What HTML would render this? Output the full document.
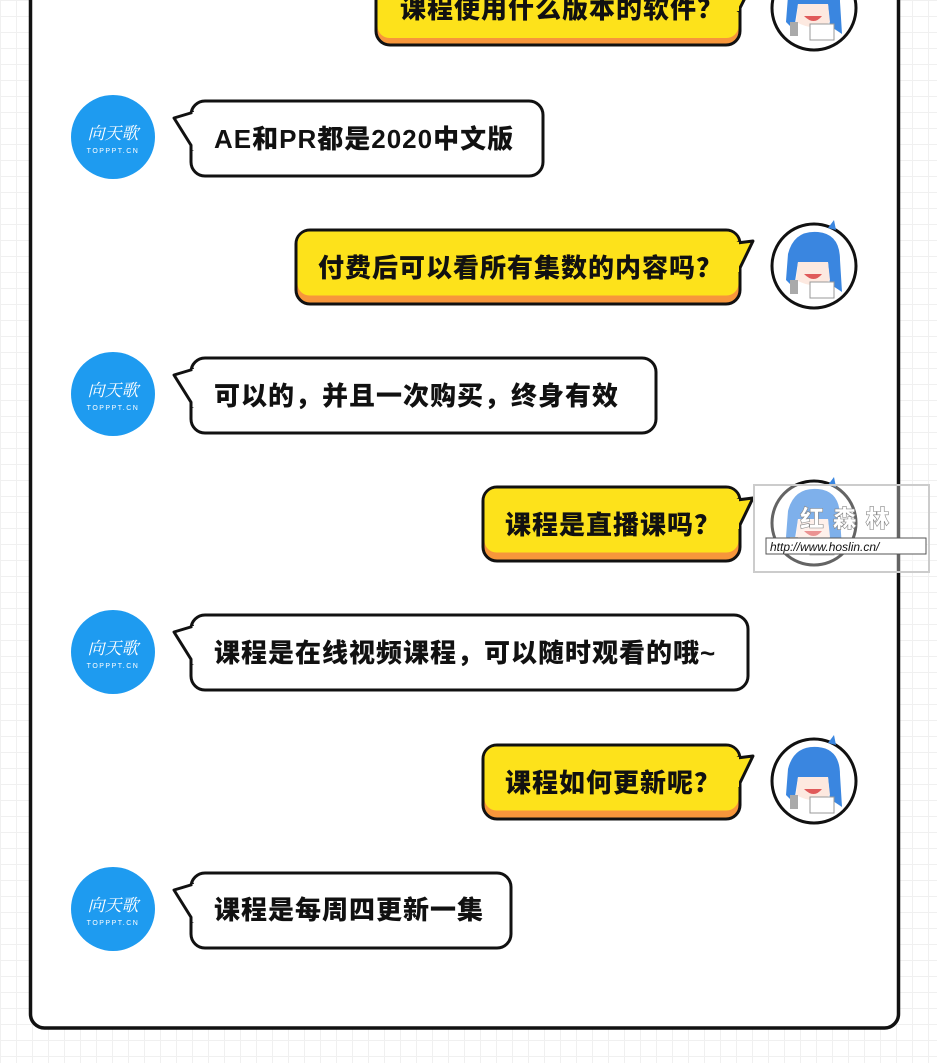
<!DOCTYPE html>
<html><head><meta charset="utf-8"><style>
body{margin:0;width:937px;height:1063px;overflow:hidden;background:#fff;
background-image:linear-gradient(#f0f0f0 1px,transparent 1px),linear-gradient(90deg,#f0f0f0 1px,transparent 1px);background-size:16px 16px;}
svg{display:block}
text{font-family:"Liberation Sans","Noto Sans CJK SC",sans-serif;font-weight:900;font-size:26px;fill:#111;letter-spacing:1px}
</style></head><body>
<svg width="937" height="1063" viewBox="0 0 937 1063">
<defs>
<g id="girl">
<circle r="42" fill="#fff" stroke="#111" stroke-width="3"/>
<path d="M-26,-12 Q-20,-36 4,-34 Q26,-32 26,-6 L28,26 L16,18 L14,-4 L-16,-4 L-20,22 L-28,14 Z" fill="#3a86e0"/>
<path d="M-16,-4 L14,-4 L16,14 Q0,24 -18,14 Z" fill="#fde9e0"/>
<path d="M-10,8 Q0,18 8,8 Z" fill="#e05a5a"/>
<rect x="-4" y="16" width="24" height="16" fill="#fff" stroke="#999" stroke-width="1"/>
<rect x="-24" y="14" width="8" height="14" fill="#aaa"/>
<path d="M14,-38 L20,-46 L22,-36 Z" fill="#3a86e0"/>
</g>
<g id="logo">
<circle r="42" fill="#1e9bf0"/>
<text x="0" y="2" text-anchor="middle" style="font-family:'Liberation Serif','Noto Serif CJK SC',serif;font-size:17px;font-weight:normal;fill:#fff;font-style:italic;letter-spacing:0">向天歌</text>
<text x="0" y="16" text-anchor="middle" style="font-size:7px;font-weight:normal;fill:#fff;letter-spacing:1.5px">TOPPPT.CN</text>
</g>
</defs>
<rect x="30.5" y="-40" width="868" height="1068" rx="14" fill="#fff" stroke="#111" stroke-width="3.5"/>

<rect x="376" y="-30" width="364" height="75" rx="14" fill="#f7963b" stroke="#111" stroke-width="3"/>
<rect x="377.5" y="-28" width="361" height="66" rx="12" fill="#fde21b"/>
<path d="M737,-16 L753,-18 L738,12" fill="#fde21b" stroke="#111" stroke-width="3" stroke-linejoin="round"/>
<rect x="733" y="-17" width="6" height="28" fill="#fde21b"/>
<text x="400" y="18">课程使用什么版本的软件？</text>
<use href="#girl" x="814" y="8"/>

<rect x="296" y="230" width="444" height="74" rx="14" fill="#f7963b" stroke="#111" stroke-width="3"/>
<rect x="297.5" y="231.5" width="441" height="64" rx="12" fill="#fde21b"/>
<path d="M737,243 L753,241 L738,272" fill="#fde21b" stroke="#111" stroke-width="3" stroke-linejoin="round"/>
<rect x="733" y="242" width="6" height="30" fill="#fde21b"/>
<text x="318" y="277">付费后可以看所有集数的内容吗？</text>
<use href="#girl" x="814" y="266"/>

<rect x="483" y="487" width="257" height="74" rx="14" fill="#f7963b" stroke="#111" stroke-width="3"/>
<rect x="484.5" y="488.5" width="254" height="64" rx="12" fill="#fde21b"/>
<path d="M737,500 L753,498 L738,529" fill="#fde21b" stroke="#111" stroke-width="3" stroke-linejoin="round"/>
<rect x="733" y="499" width="6" height="30" fill="#fde21b"/>
<text x="505" y="534">课程是直播课吗？</text>
<use href="#girl" x="814" y="523"/>
<rect x="754" y="485" width="175" height="87" fill="rgba(255,255,255,0.35)" stroke="#ccc" stroke-width="2"/>
<rect x="766" y="538" width="160" height="16" fill="#fff" stroke="#555" stroke-width="1"/>
<text x="770" y="551" style="font-size:12px;font-style:italic;font-weight:normal;letter-spacing:0">http://www.hoslin.cn/</text>
<text x="800" y="527" style="font-size:24px;fill:#fff;stroke:#888;stroke-width:0.6">红 森 林</text>

<rect x="483" y="745" width="257" height="74" rx="14" fill="#f7963b" stroke="#111" stroke-width="3"/>
<rect x="484.5" y="746.5" width="254" height="64" rx="12" fill="#fde21b"/>
<path d="M737,758 L753,756 L738,787" fill="#fde21b" stroke="#111" stroke-width="3" stroke-linejoin="round"/>
<rect x="733" y="757" width="6" height="30" fill="#fde21b"/>
<text x="505" y="792">课程如何更新呢？</text>
<use href="#girl" x="814" y="781"/>

<rect x="191" y="101" width="352" height="75" rx="14" fill="#fff" stroke="#111" stroke-width="3"/>
<path d="M194,112 L174,118 L194,150" fill="#fff" stroke="#111" stroke-width="3" stroke-linejoin="round"/>
<rect x="192.5" y="112" width="6" height="38" fill="#fff"/>
<text x="214" y="148">AE和PR都是2020中文版</text>
<use href="#logo" x="113" y="137"/>

<rect x="191" y="358" width="465" height="75" rx="14" fill="#fff" stroke="#111" stroke-width="3"/>
<path d="M194,369 L174,375 L194,407" fill="#fff" stroke="#111" stroke-width="3" stroke-linejoin="round"/>
<rect x="192.5" y="369" width="6" height="38" fill="#fff"/>
<text x="214" y="405">可以的，并且一次购买，终身有效</text>
<use href="#logo" x="113" y="394"/>

<rect x="191" y="615" width="557" height="75" rx="14" fill="#fff" stroke="#111" stroke-width="3"/>
<path d="M194,626 L174,632 L194,664" fill="#fff" stroke="#111" stroke-width="3" stroke-linejoin="round"/>
<rect x="192.5" y="626" width="6" height="38" fill="#fff"/>
<text x="214" y="662">课程是在线视频课程，可以随时观看的哦~</text>
<use href="#logo" x="113" y="652"/>

<rect x="191" y="873" width="320" height="75" rx="14" fill="#fff" stroke="#111" stroke-width="3"/>
<path d="M194,884 L174,890 L194,922" fill="#fff" stroke="#111" stroke-width="3" stroke-linejoin="round"/>
<rect x="192.5" y="884" width="6" height="38" fill="#fff"/>
<text x="214" y="919">课程是每周四更新一集</text>
<use href="#logo" x="113" y="909"/>
</svg>
</body></html>
